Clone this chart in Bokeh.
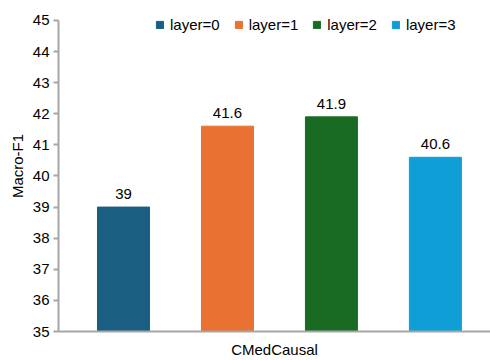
from bokeh.plotting import figure
from bokeh.models import ColumnDataSource, Range1d, Legend, LegendItem, FixedTicker
from bokeh.core.properties import value
from bokeh.embed import file_html
from bokeh.resources import INLINE

layers = ["layer=0", "layer=1", "layer=2", "layer=3"]
scores = [39, 41.6, 41.9, 40.6]
score_labels = ["39", "41.6", "41.9", "40.6"]
colors = ["#1a5e82", "#e97132", "#196b24", "#0f9ed5"]
y_ticks = [35, 36, 37, 38, 39, 40, 41, 42, 43, 44, 45]
dataset = "CMedCausal"

FONT = "Liberation Sans"

src = ColumnDataSource(dict(
    x=list(range(len(layers))), top=scores, lab=score_labels,
    color=colors, layer=layers,
))

p = figure(width=490, height=360, output_backend="svg", toolbar_location=None,
           x_range=Range1d(-0.625, 3.53), y_range=Range1d(35, 45.64),
           min_border_left=58, min_border_right=0, min_border_top=0,
           min_border_bottom=28)
p.outline_line_color = None
p.xgrid.visible = False
p.ygrid.visible = False

r = p.vbar(x="x", top="top", bottom=35, width=0.5, source=src,
           fill_color="color", line_color="color")

p.text(x="x", y="top", text="lab", source=src, y_offset=-8,
       text_align="center", text_baseline="bottom",
       text_font=value(FONT), text_font_size="15px", text_color="#000000")

# y axis
ya = p.yaxis[0]
ya.ticker = FixedTicker(ticks=y_ticks)
ya.bounds = (35, 45)
ya.minor_tick_line_color = None
ya.major_tick_in = 0
ya.major_tick_out = 5
ya.axis_line_color = "#a6a6a6"
ya.axis_line_width = 2
ya.major_tick_line_color = "#a6a6a6"
ya.major_tick_line_width = 2
ya.major_label_text_font = FONT
ya.major_label_text_font_size = "15px"
ya.major_label_text_color = "#000000"
ya.major_label_standoff = 4
ya.axis_label = "Macro-F1"
ya.axis_label_text_font = FONT
ya.axis_label_text_font_style = "normal"
ya.axis_label_text_font_size = "15px"
ya.axis_label_text_color = "#000000"
ya.axis_label_standoff = 4

# x axis
xa = p.xaxis[0]
xa.ticker = FixedTicker(ticks=[])
xa.minor_tick_line_color = None
xa.major_tick_line_color = None
xa.axis_line_color = "#a6a6a6"
xa.axis_line_width = 2
xa.axis_label = dataset
xa.axis_label_text_font = FONT
xa.axis_label_text_font_style = "normal"
xa.axis_label_text_font_size = "15px"
xa.axis_label_text_color = "#000000"
xa.axis_label_standoff = 9

items = [LegendItem(label=layers[i], renderers=[r], index=i) for i in range(len(layers))]
legend = Legend(items=items, orientation="horizontal", location=(97, 297),
                glyph_width=9, glyph_height=9, label_standoff=6, spacing=14,
                padding=0, margin=0, border_line_color=None,
                background_fill_alpha=0,
                label_text_font=FONT, label_text_font_size="15px",
                label_text_color="#000000", label_height=20)
p.add_layout(legend, "center")

open("out.html", "w").write(file_html(p, INLINE))
